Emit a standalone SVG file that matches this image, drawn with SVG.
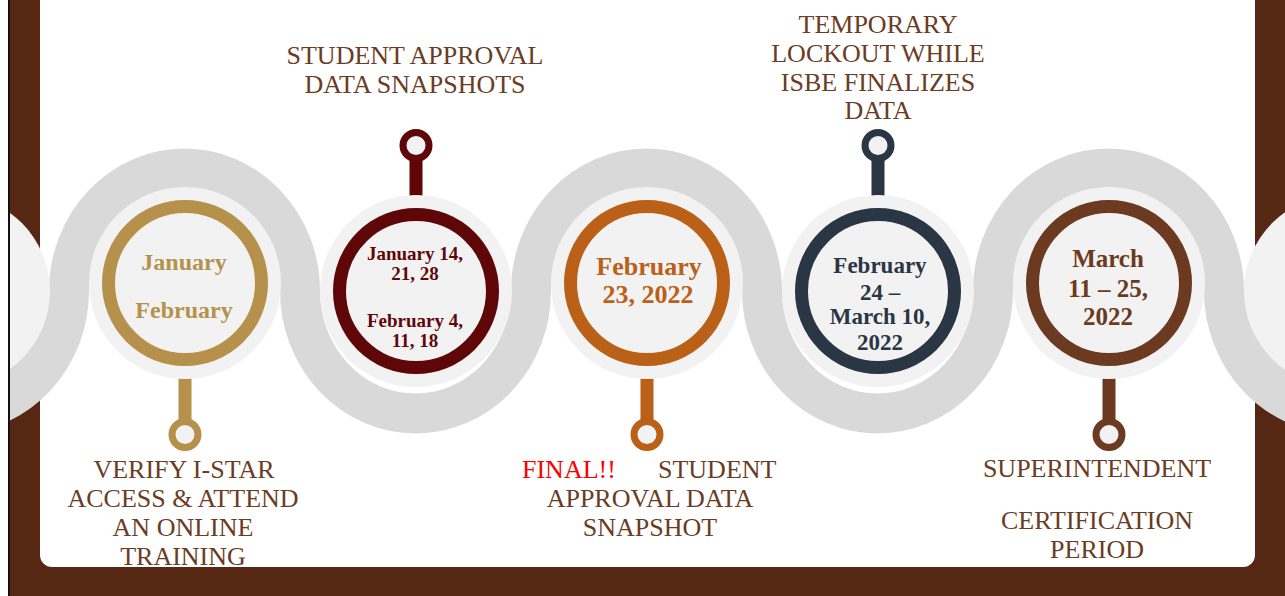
<svg xmlns="http://www.w3.org/2000/svg" width="1285" height="596" viewBox="0 0 1285 596">
<defs>
<style>
.lbl{font-family:"Liberation Serif","Times New Roman",serif;font-size:26px;fill:#6b3c23;text-anchor:middle}
.dt{font-family:"Liberation Serif","Times New Roman",serif;font-weight:bold;text-anchor:middle}
.halo{fill:#f2f2f2}
.ring{fill:none;stroke-width:13}
.knob{fill:#f2f2f2;stroke-width:7}
</style>
<clipPath id="clip"><rect x="10" y="0" width="1275" height="596"/></clipPath>
</defs>
<rect x="0" y="0" width="1285" height="596" fill="#562813"/>
<rect x="0" y="0" width="8" height="596" fill="#ffffff"/>
<rect x="8" y="0" width="2" height="596" fill="#141010"/>
<rect x="40" y="-20" width="1215" height="587" rx="12" fill="#ffffff"/>
<g clip-path="url(#clip)">
<g id="wave">
<path d="M -152 291 A 106 106 0 0 0 60 291 Z" fill="#d9d9d9"/>
<path d="M 1234 291 A 106 106 0 0 0 1446 291 Z" fill="#d9d9d9"/>
<path d="M -162 291 A 115.5 122.5 0 0 0 69 291 A 115.5 122.5 0 0 1 300 291 A 115.5 122.5 0 0 0 531 291 A 115.5 122.5 0 0 1 762 291 A 115.5 122.5 0 0 0 993 291 A 115.5 122.5 0 0 1 1224 291 A 115.5 122.5 0 0 0 1455 291" fill="none" stroke="#d9d9d9" stroke-width="40"/>
</g>
<circle class="halo" cx="-46" cy="291" r="96"/>
<circle class="halo" cx="1340" cy="291" r="96"/>
</g>
<g id="connectors">
<rect x="178.5" y="360" width="13" height="64" fill="#b5914c"/>
<circle class="knob" cx="185" cy="434.5" r="13" stroke="#b5914c"/>
<rect x="409.5" y="156" width="13" height="60" fill="#5f0708"/>
<circle class="knob" cx="416" cy="145.5" r="13" stroke="#5f0708"/>
<rect x="640.5" y="360" width="13" height="64" fill="#ba6017"/>
<circle class="knob" cx="647" cy="434.5" r="13" stroke="#ba6017"/>
<rect x="871.5" y="156" width="13" height="60" fill="#2a3643"/>
<circle class="knob" cx="878" cy="145.5" r="13" stroke="#2a3643"/>
<rect x="1102.5" y="360" width="13" height="64" fill="#6b3a20"/>
<circle class="knob" cx="1109" cy="434.5" r="13" stroke="#6b3a20"/>
</g>
<g id="node1">
<circle class="halo" cx="185" cy="283" r="96"/>
<circle class="ring" cx="185" cy="283" r="76.5" stroke="#b5914c"/>
<text class="dt" font-size="24" fill="#b5914c"><tspan x="184" y="270">January</tspan><tspan x="184" y="318">February</tspan></text>
<text class="lbl"><tspan x="184" y="478">VERIFY I-STAR</tspan><tspan x="183" y="507">ACCESS &amp; ATTEND</tspan><tspan x="183" y="536">AN ONLINE</tspan><tspan x="183" y="565">TRAINING</tspan></text>
</g>
<g id="node2">
<circle class="halo" cx="416" cy="291" r="96"/>
<circle class="ring" cx="416" cy="291" r="76.5" stroke="#5f0708"/>
<text class="dt" font-size="19" fill="#5f0708"><tspan x="415" y="260">January 14,</tspan><tspan x="415" y="280">21, 28</tspan><tspan x="415" y="327">February 4,</tspan><tspan x="415" y="347">11, 18</tspan></text>
<text class="lbl"><tspan x="415" y="64">STUDENT APPROVAL</tspan><tspan x="415" y="93">DATA SNAPSHOTS</tspan></text>
</g>
<g id="node3">
<circle class="halo" cx="647" cy="283" r="96"/>
<circle class="ring" cx="647" cy="283" r="76.5" stroke="#ba6017"/>
<text class="dt" font-size="26" fill="#ba6017"><tspan x="649" y="275">February</tspan><tspan x="648" y="303">23, 2022</tspan></text>
<text class="lbl"><tspan x="522" y="478" fill="#ff0000" text-anchor="start">FINAL!!</tspan><tspan x="658" y="478" text-anchor="start">STUDENT</tspan><tspan x="650" y="507">APPROVAL DATA</tspan><tspan x="650" y="536">SNAPSHOT</tspan></text>
</g>
<g id="node4">
<circle class="halo" cx="878" cy="291" r="96"/>
<circle class="ring" cx="878" cy="291" r="76.5" stroke="#2a3643"/>
<text class="dt" font-size="23" fill="#2a3643"><tspan x="880" y="273">February</tspan><tspan x="880" y="300">24 –</tspan><tspan x="880" y="324">March 10,</tspan><tspan x="880" y="350">2022</tspan></text>
<text class="lbl"><tspan x="878" y="33">TEMPORARY</tspan><tspan x="878" y="62">LOCKOUT WHILE</tspan><tspan x="878" y="91">ISBE FINALIZES</tspan><tspan x="878" y="119">DATA</tspan></text>
</g>
<g id="node5">
<circle class="halo" cx="1109" cy="283" r="96"/>
<circle class="ring" cx="1109" cy="283" r="76.5" stroke="#6b3a20"/>
<text class="dt" font-size="25" fill="#6b3a20"><tspan x="1108" y="267">March</tspan><tspan x="1108" y="297">11 – 25,</tspan><tspan x="1108" y="325">2022</tspan></text>
<text class="lbl"><tspan x="1097" y="477">SUPERINTENDENT</tspan><tspan x="1097" y="529">CERTIFICATION</tspan><tspan x="1097" y="558">PERIOD</tspan></text>
</g>
</svg>
